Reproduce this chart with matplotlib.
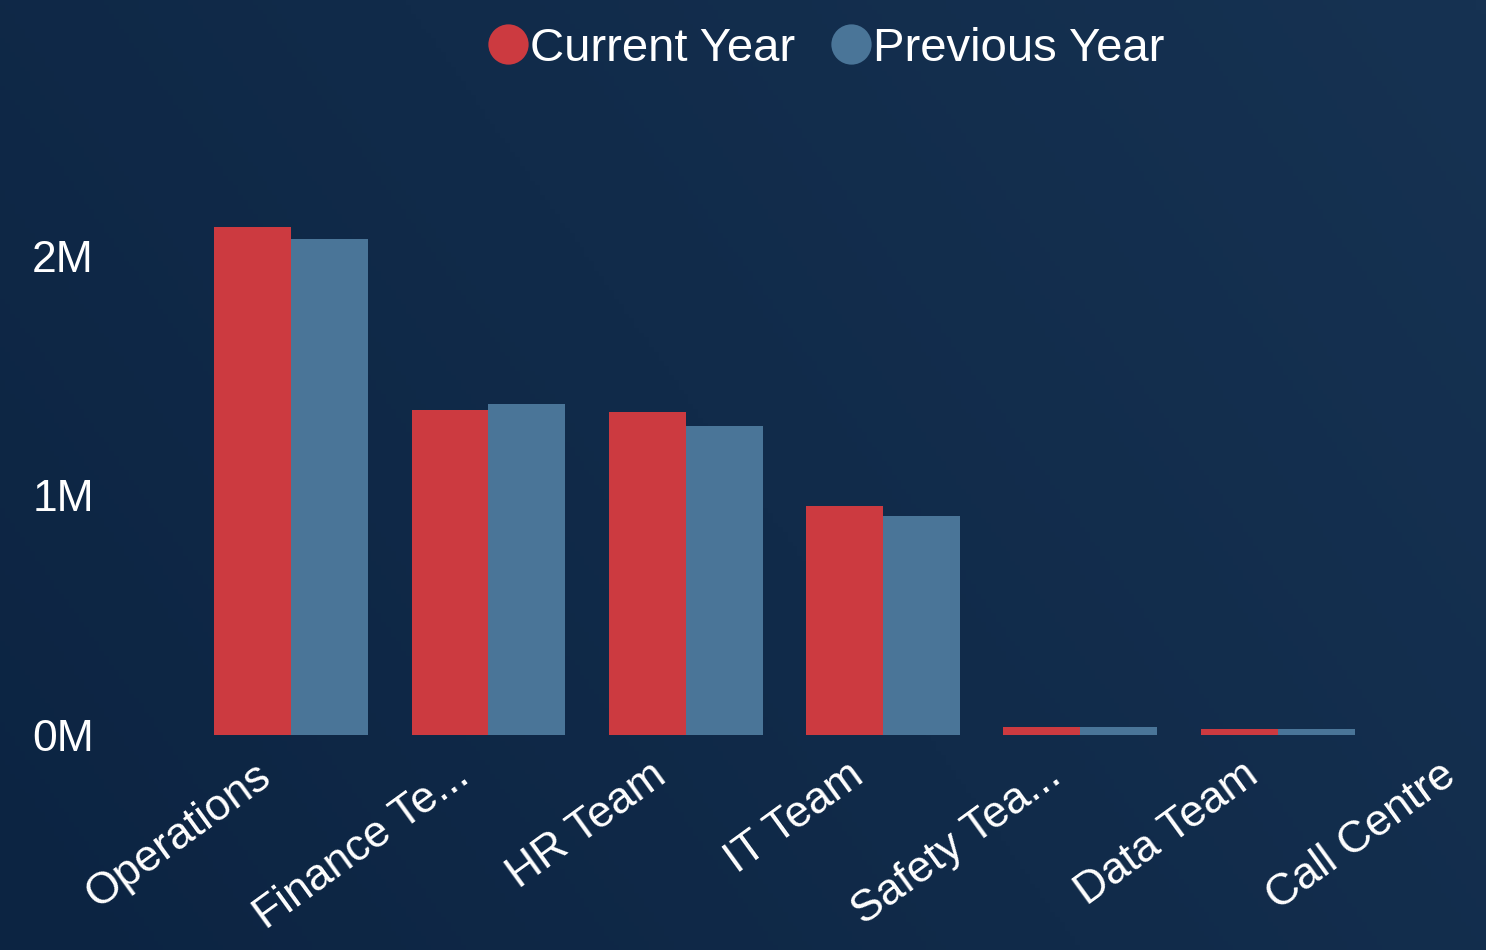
import matplotlib.pyplot as plt
import numpy as np
import matplotlib.transforms as mtransforms
from matplotlib.lines import Line2D

# data (values in millions)
categories = ["Operations", "Finance Te...", "HR Team", "IT Team",
              "Safety Tea...", "Data Team", "Call Centre"]
current_year = [2.12, 1.355, 1.35, 0.955, 0.033, 0.027, 0.0]
previous_year = [2.07, 1.38, 1.29, 0.915, 0.032, 0.024, 0.0]
y_ticks = [0, 1, 2]
y_tick_labels = ["0M", "1M", "2M"]

red = "#cc3a40"
blue = "#4a7598"
font = "Liberation Sans"

fig = plt.figure(figsize=(14.86, 9.5), dpi=100)

# background: dark navy gradient
bg = fig.add_axes([0, 0, 1, 1], zorder=-1)
gx = np.linspace(0, 1, 300)
gy = np.linspace(0, 1, 200)
X, Y = np.meshgrid(gx, gy)
g = 0.55 * X + 0.25 * Y
bg.imshow(g, cmap=plt.matplotlib.colors.LinearSegmentedColormap.from_list(
    "bg", ["#0c2442", "#163252"]), aspect="auto", extent=[0, 1, 0, 1], origin="lower")
bg.axis("off")

ax = fig.add_axes([192.5 / 1486, 215 / 950, 1293.5 / 1486, 599 / 950])
ax.patch.set_alpha(0)

x = np.arange(len(categories))
w = 0.39
ax.bar(x - w / 2, current_year, width=w, color=red, label="Current Year")
ax.bar(x + w / 2, previous_year, width=w, color=blue, label="Previous Year")

ax.set_xlim(-0.5, 6.056)
ax.set_ylim(0, 2.5)

for s in ax.spines.values():
    s.set_visible(False)
ax.tick_params(length=0)

ax.set_yticks(y_ticks)
ax.set_yticklabels(y_tick_labels, fontsize=32, color="white", family=font)
ax.tick_params(axis="y", pad=71)

ax.set_xticks(x)
ax.set_xticklabels(categories, fontsize=32, color="white", family=font,
                   rotation=36, ha="right", va="top", rotation_mode="anchor")
ax.tick_params(axis="x", pad=14)
shift = mtransforms.ScaledTranslation(-26 / 72, 0, fig.dpi_scale_trans)
for lab in ax.get_xticklabels():
    lab.set_transform(lab.get_transform() + shift)

handles = [Line2D([], [], marker="o", linestyle="none", markersize=29,
                  markerfacecolor=c, markeredgecolor="none") for c in (red, blue)]
fig.legend(handles, ["Current Year", "Previous Year"], loc="center",
           bbox_to_anchor=(822 / 1486, 1 - 49 / 950), ncol=2, frameon=False,
           handletextpad=-0.15, columnspacing=0.6, handlelength=1.2,
           prop={"family": font, "size": 34}, labelcolor="white")

fig.savefig("out.png", dpi=100)
